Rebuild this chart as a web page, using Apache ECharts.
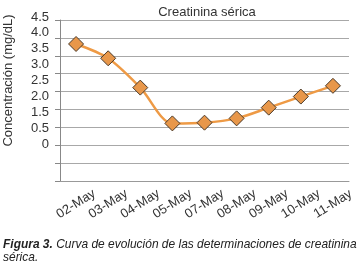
<!DOCTYPE html>
<html><head><meta charset="utf-8">
<script src="https://cdn.jsdelivr.net/npm/echarts@6/dist/echarts.min.js"></script>
<style>html,body{margin:0;padding:0;background:#fff}#c{width:360px;height:268px}</style>
</head><body><div id="c"></div>
<script>
const categories = ["02-May","03-May","04-May","05-May","07-May","08-May","09-May","10-May","11-May"];
const creatinina = [3.83, 3.43, 2.61, 1.61, 1.63, 1.75, 2.05, 2.36, 2.66];
const yTickLabels = ["4.5","4.0","3.5","3.0","2.5","2.0","1.5","0.5","0"];
const FONT = "'Liberation Sans', Arial, sans-serif";
const chart = echarts.init(document.getElementById('c'), null, {renderer:'canvas'});
chart.setOption({
  animation:false,
  backgroundColor:'#fff',
  title:[
    {text:'Creatinina sérica', left:202, textAlign:'center', top:1,
     textStyle:{fontFamily:FONT, fontSize:13, fontWeight:'normal', color:'#333'}}
  ],
  graphic:[{
    type:'text', left:3, top:238, scaleX:0.92,
    style:{
      text:'{b|Figura 3.} {i|Curva de evolución de las determinaciones de creatinina}\n{i|sérica.}',
      fontFamily:FONT, fontSize:13, lineHeight:13, fill:'#222',
      rich:{b:{fontFamily:FONT,fontSize:13,fontWeight:'bold',fontStyle:'italic',fill:'#222',lineHeight:13},
            i:{fontFamily:FONT,fontSize:13,fontWeight:'normal',fontStyle:'italic',fill:'#222',lineHeight:13}}
    }
  }],
  grid:[
    {left:60, top:20, width:289, height:161, outerBoundsMode:'none', containLabel:false},
    {left:60, top:17, width:289, height:127, outerBoundsMode:'none', containLabel:false}
  ],
  xAxis:[
    {type:'category', gridIndex:0, data:categories, boundaryGap:true,
     axisLine:{show:true, lineStyle:{color:'#999', width:1}},
     axisTick:{show:false},
     axisLabel:{rotate:32, align:'center', verticalAlign:'middle', margin:23, interval:0,
       fontFamily:FONT, fontSize:13, color:'#333'}},
    {type:'value', gridIndex:1, show:false, min:0, max:1}
  ],
  yAxis:[
    {type:'value', gridIndex:0, min:0, max:4.5, interval:0.5,
     axisLine:{show:true, lineStyle:{color:'#888', width:1}},
     axisTick:{show:true, inside:false, length:5, lineStyle:{color:'#888'}},
     axisLabel:{show:false},
     splitLine:{show:true, lineStyle:{color:'#a8a8a8', width:1}}},
    {type:'value', gridIndex:1, min:0, max:8, interval:1,
     name:'Concentración (mg/dL)', nameLocation:'middle', nameGap:45, nameRotate:90,
     nameTextStyle:{fontFamily:FONT, fontSize:13, color:'#333'},
     axisLine:{show:false}, axisTick:{show:false}, splitLine:{show:false},
     axisLabel:{margin:11, fontFamily:FONT, fontSize:13, color:'#333',
       formatter:function(v){return yTickLabels[8-Math.round(v)];}}}
  ],
  series:[{
    type:'line', xAxisIndex:0, yAxisIndex:0, data:creatinina, smooth:0.3,
    symbol:'diamond', symbolSize:15,
    lineStyle:{color:'#EE9A45', width:2.5},
    itemStyle:{color:'#E8974A', borderColor:'#4a3a2a', borderWidth:1}
  }]
});
</script></body></html>
